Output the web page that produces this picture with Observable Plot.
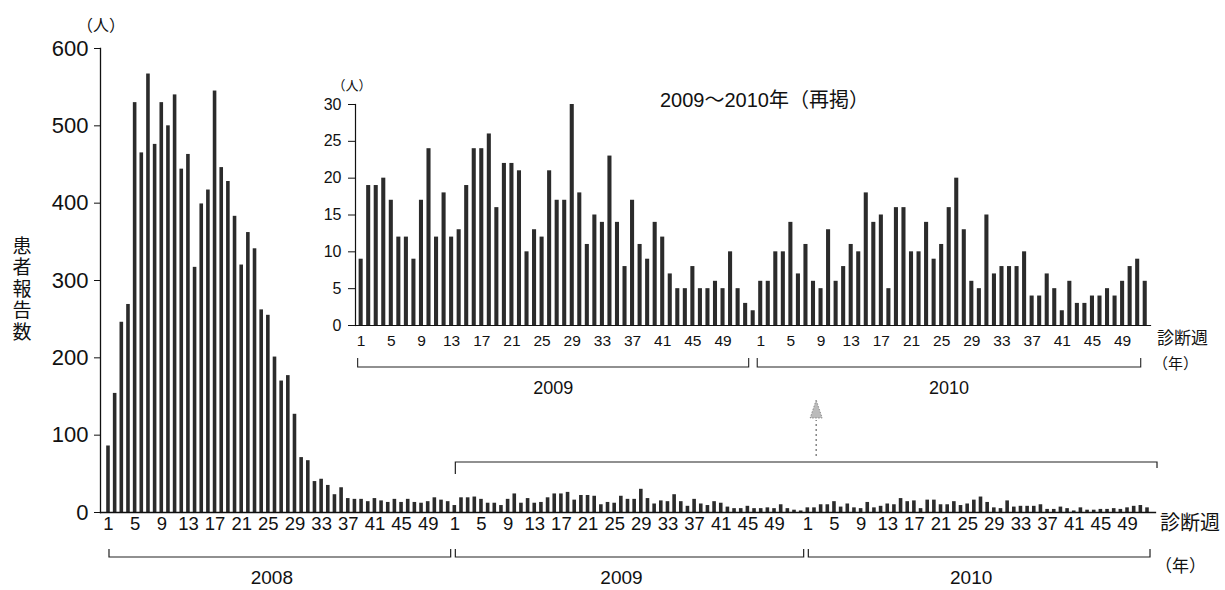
<!DOCTYPE html>
<html><head><meta charset="utf-8">
<script src="https://cdn.jsdelivr.net/npm/d3@7"></script>
<script src="https://cdn.jsdelivr.net/npm/@observablehq/plot@0.6"></script>
<style>
body{margin:0;background:#fff;}
#wrap{position:relative;width:1225px;height:590px;overflow:hidden;background:#fff;}
#wrap svg{position:absolute;}
</style></head><body><div id="wrap"></div>
<script>
// ---- data ----
const years = ["2008", "2009", "2010"];
const cases2008 = [86,154,246,269,530,465,567,476,530,500,540,444,463,317,399,417,545,446,428,383,320,362,341,262,255,201,170,177,127,71,67,40,43,35,23,32,18,17,17,14,18,15,13,17,13,17,13,12,14,19,16,14];
const cases2009 = [9,19,19,20,17,12,12,9,17,24,12,18,12,13,19,24,24,26,16,22,22,21,10,13,12,21,17,17,30,18,11,15,14,23,14,8,17,11,9,14,12,7,5,5,8,5,5,6,5,10,5,3,2];
const cases2010 = [6,6,10,10,14,7,11,6,5,13,6,8,11,10,18,14,15,5,16,16,10,10,14,9,11,16,20,13,6,5,15,7,8,8,8,10,4,4,7,5,2,6,3,3,4,4,5,4,6,8,9,6];
const weekTicks = [1,5,9,13,17,21,25,29,33,37,41,45,49];
const yTicksMain = [0,100,200,300,400,500,600];
const yTicksInset = [0,5,10,15,20,25,30];
const yLabel = "患者報告数";
const unitLabel = "（人）";
const weekLabel = "診断週";
const yearUnit = "（年）";
const insetTitle = "2009〜2010年（再掲）";

const FONT = "'Liberation Sans','Noto Sans CJK JP',sans-serif";
const CJK = "'Noto Sans CJK JP','Liberation Sans',sans-serif";

function build(seriesList, names) {
  const rows = [], spans = [];
  seriesList.forEach((arr, k) => {
    const first = rows.length;
    arr.forEach((v, j) => rows.push({year: names[k], week: j + 1, i: rows.length, v}));
    spans.push({year: names[k], first, last: rows.length - 1});
  });
  return {rows, spans};
}
const mainData = build([cases2008, cases2009, cases2010], years);
const insetData = build([cases2009, cases2010], years.slice(1));

const wrap = document.getElementById("wrap");

// ---- main chart ----
const M = mainData.rows;
const main = Plot.plot({
  width: 1225, height: 590,
  marginLeft: 100, marginRight: 70, marginTop: 48, marginBottom: 78,
  style: {fontFamily: FONT, background: "transparent", color: "#111", overflow: "visible"},
  x: {domain: [-1.2, M.length + 0.2]},
  y: {domain: [0, 600]},
  marks: [
    Plot.rectY(M, {x1: d => d.i - 0.27, x2: d => d.i + 0.27, y: "v", fill: "#2b2b2b"}),
    Plot.frame({anchor: "left", stroke: "#111", strokeWidth: 1.3}),
    Plot.frame({anchor: "bottom", stroke: "#111", strokeWidth: 1.3}),
    Plot.axisY({ticks: yTicksMain, tickSize: 6, tickPadding: 6, fontSize: 22, label: null, stroke: "#111"}),
    Plot.axisX({ticks: M.filter(d => weekTicks.includes(d.week)).map(d => d.i), tickFormat: i => M[i].week,
      tickSize: 0, tickPadding: 4, fontSize: 18.5, label: null})
  ]
});
main.style.left = "0px"; main.style.top = "0px";
wrap.appendChild(main);

{
  const sx = main.scale("x").apply, sy = main.scale("y").apply;
  const svg = d3.select(main);
  const base = sy(0);
  const g = svg.append("g").attr("fill", "none").attr("stroke", "#222").attr("stroke-width", 1.2);
  const t = svg.append("g").attr("fill", "#111").attr("font-family", FONT).attr("text-anchor", "start");
  mainData.spans.forEach(s => {
    const x1 = sx(s.first) + 1, x2 = sx(s.last) + 3;
    g.append("path").attr("d", `M${x1},${base + 37}V${base + 45}H${x2}V${base + 37}`);
    t.append("text").attr("x", (x1 + x2) / 2 - 8).attr("y", base + 72).attr("text-anchor", "middle")
      .attr("font-size", 19).text(s.year);
  });
  // bracket over 2009-2010 region + arrow
  const s9 = mainData.spans[1], s10 = mainData.spans[2];
  const bx1 = sx(s9.first) + 1, bx2 = sx(s10.last) + 10, by = base - 50;
  g.append("path").attr("d", `M${bx1},${by + 12}V${by}H${bx2}V${by + 6}`);
  const ax = (bx1 + bx2) / 2 + 10;
  g.append("line").attr("x1", ax).attr("x2", ax).attr("y1", by - 6).attr("y2", by - 42)
    .attr("stroke", "#666").attr("stroke-dasharray", "2,3");
  svg.append("path").attr("d", `M${ax},${by - 62}L${ax - 6},${by - 44}L${ax + 6},${by - 44}Z`)
    .attr("fill", "#bbb").attr("stroke", "#777").attr("stroke-width", 0.8).attr("stroke-dasharray", "1.5,1.5");
  // texts
  t.append("text").attr("x", 101).attr("y", 31).attr("text-anchor", "middle").attr("font-size", 16)
    .attr("font-family", CJK).text(unitLabel);
  t.append("text").attr("x", 22).attr("y", 290).attr("text-anchor", "middle")
    .attr("font-family", CJK).attr("font-size", 19).attr("letter-spacing", 2.5)
    .style("writing-mode", "vertical-rl").attr("writing-mode", "tb").text(yLabel);
  t.append("text").attr("x", 1160).attr("y", base + 18).attr("font-size", 20).attr("font-family", CJK).text(weekLabel);
  t.append("text").attr("x", 1155).attr("y", base + 60).attr("font-size", 17).attr("font-family", CJK).text(yearUnit);
}

// ---- inset chart ----
const I = insetData.rows;
const inset = Plot.plot({
  width: 905, height: 330,
  marginLeft: 35, marginRight: 75, marginTop: 34, marginBottom: 75,
  style: {fontFamily: FONT, background: "transparent", color: "#111", overflow: "visible"},
  x: {domain: [-0.75, I.length - 0.3]},
  y: {domain: [0, 30]},
  marks: [
    Plot.rectY(I, {x1: d => d.i - 0.27, x2: d => d.i + 0.27, y: "v", fill: "#2b2b2b"}),
    Plot.frame({anchor: "left", stroke: "#111", strokeWidth: 1.2}),
    Plot.frame({anchor: "bottom", stroke: "#111", strokeWidth: 1.2}),
    Plot.axisY({ticks: yTicksInset, tickSize: 7, tickPadding: 7, fontSize: 16, label: null}),
    Plot.axisX({ticks: I.filter(d => weekTicks.includes(d.week)).map(d => d.i), tickFormat: i => I[i].week,
      tickSize: 0, tickPadding: 9, fontSize: 15.5, label: null})
  ]
});
inset.style.left = "320px"; inset.style.top = "70px";
wrap.appendChild(inset);

{
  const sx = inset.scale("x").apply, sy = inset.scale("y").apply;
  const svg = d3.select(inset);
  const base = sy(0);
  const g = svg.append("g").attr("fill", "none").attr("stroke", "#222").attr("stroke-width", 1.1);
  const t = svg.append("g").attr("fill", "#111").attr("font-family", FONT).attr("text-anchor", "start");
  insetData.spans.forEach(s => {
    const x1 = sx(s.first) - 3, x2 = sx(s.last) - 4;
    g.append("path").attr("d", `M${x1},${base + 33}V${base + 42}H${x2}V${base + 33}`);
    t.append("text").attr("x", (x1 + x2) / 2).attr("y", base + 69).attr("text-anchor", "middle")
      .attr("font-size", 18).text(s.year);
  });
  t.append("text").attr("x", 32).attr("y", 20).attr("text-anchor", "middle").attr("font-size", 13)
    .attr("font-family", CJK).text(unitLabel);
  t.append("text").attr("x", 340).attr("y", 37).attr("font-size", 20).text(insetTitle);
  t.append("text").attr("x", 837).attr("y", base + 19).attr("font-size", 17).attr("font-family", CJK).text(weekLabel);
  t.append("text").attr("x", 833).attr("y", base + 44).attr("font-size", 15).attr("font-family", CJK).text(yearUnit);
}
</script></body></html>
